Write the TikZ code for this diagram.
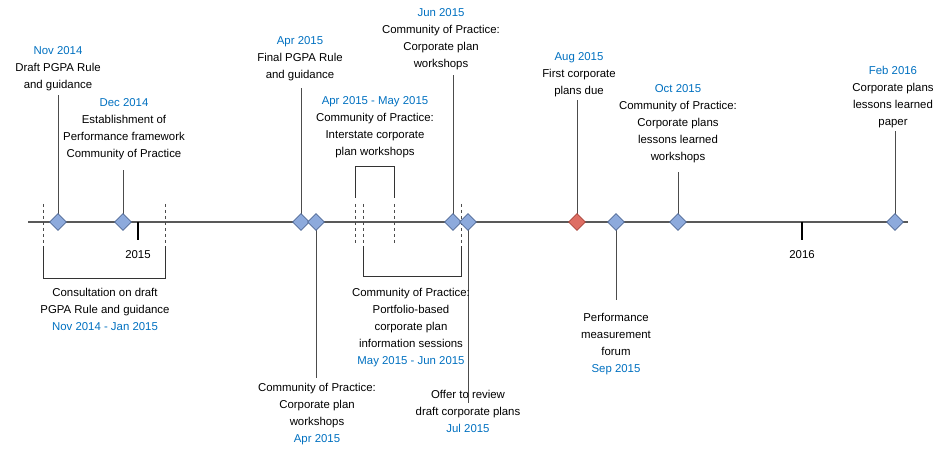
\documentclass[tikz,border=0pt]{standalone}
\usepackage{fontspec}
\setmainfont{Liberation Sans}
\usetikzlibrary{shapes.geometric}
\definecolor{lblue}{RGB}{0,112,192}
\definecolor{dfill}{RGB}{141,170,220}
\definecolor{dline}{RGB}{80,105,150}
\definecolor{rfill}{RGB}{222,110,100}
\definecolor{rline}{RGB}{170,70,60}
\begin{document}
\begin{tikzpicture}[x=1pt,y=-1pt,
  ms/.style={diamond,draw=dline,fill=dfill,minimum size=17pt,inner sep=0pt,line width=0.8pt},
  msr/.style={ms,draw=rline,fill=rfill},
  lbl/.style={align=center,inner sep=0pt,font=\fontsize{11.4}{17}\selectfont,anchor=north},
  stem/.style={draw=black!70,line width=0.8pt},
  dsh/.style={draw=black!70,dashed,line width=0.6pt},
  brk/.style={draw=black!80,line width=0.8pt}]
\useasboundingbox (0,0) rectangle (950,454);
\coordinate (L0) at (28,222); \coordinate (L1) at (908,222);
\draw[draw=black!65,line width=1.6pt] (L0) -- (L1);
\coordinate (t1) at (138,222); \coordinate (t1b) at (138,240);
\coordinate (t2) at (802,222); \coordinate (t2b) at (802,240);
\draw[line width=1.6pt] (t1)--(t1b); \draw[line width=1.6pt] (t2)--(t2b);
\node[lbl] (y1) at (138,250) {2015};
\node[lbl] (y2) at (802,250) {2016};
\foreach \x/\n in {43/a,165/b,355/c,363/d,394/e,461/f}{
 \coordinate (d\n1) at (\x,204); \coordinate (d\n2) at (\x,244);
 \draw[dsh] (d\n1)--(d\n2);}
\coordinate (ba1) at (43,246); \coordinate (ba2) at (43,278); \coordinate (ba3) at (165,278); \coordinate (ba4) at (165,246);
\draw[brk] (ba1)--(ba2)--(ba3)--(ba4);
\coordinate (bb1) at (355,198); \coordinate (bb2) at (355,166); \coordinate (bb3) at (394,166); \coordinate (bb4) at (394,198);
\draw[brk] (bb1)--(bb2)--(bb3)--(bb4);
\coordinate (bc1) at (363,246); \coordinate (bc2) at (363,276); \coordinate (bc3) at (461,276); \coordinate (bc4) at (461,246);
\draw[brk] (bc1)--(bc2)--(bc3)--(bc4);
\foreach \x/\y/\n in {58/95/a,123/170/b,301/88/c,316/378/d,453/75/e,468/403/f,577/100/g,616/300/h,678/172/i,895/131/j}{
 \coordinate (s\n) at (\x,222); \coordinate (e\n) at (\x,\y);
 \draw[stem] (s\n)--(e\n);}
\foreach \x/\n in {58/a,123/b,301/c,316/d,453/e,468/f,616/h,678/i,895/j}{
 \node[ms] (m\n) at (\x,222) {};}
\node[msr] (mg) at (577,222) {};
\node[lbl] (n1) at (58,46) {\textcolor{lblue}{Nov 2014}\\Draft PGPA Rule\\and guidance};
\node[lbl] (n2) at (124,98) {\textcolor{lblue}{Dec 2014}\\Establishment of\\Performance framework\\Community of Practice};
\node[lbl] (n3) at (300,36) {\textcolor{lblue}{Apr 2015}\\Final PGPA Rule\\and guidance};
\node[lbl] (n4) at (375,96) {\textcolor{lblue}{Apr 2015 - May 2015}\\Community of Practice:\\Interstate corporate\\plan workshops};
\node[lbl] (n5) at (441,8) {\textcolor{lblue}{Jun 2015}\\Community of Practice:\\Corporate plan\\workshops};
\node[lbl] (n6) at (579,52) {\textcolor{lblue}{Aug 2015}\\First corporate\\plans due};
\node[lbl] (n7) at (678,84) {\textcolor{lblue}{Oct 2015}\\Community of Practice:\\Corporate plans\\lessons learned\\workshops};
\node[lbl] (n8) at (893,66) {\textcolor{lblue}{Feb 2016}\\Corporate plans\\lessons learned\\paper};
\node[lbl] (n9) at (105,288) {Consultation on draft\\PGPA Rule and guidance\\\textcolor{lblue}{Nov 2014 - Jan 2015}};
\node[lbl] (n10) at (411,288) {Community of Practice:\\Portfolio-based\\corporate plan\\information sessions\\\textcolor{lblue}{May 2015 - Jun 2015}};
\node[lbl] (n11) at (616,313) {Performance\\measurement\\forum\\\textcolor{lblue}{Sep 2015}};
\node[lbl] (n12) at (317,383) {Community of Practice:\\Corporate plan\\workshops\\\textcolor{lblue}{Apr 2015}};
\node[lbl] (n13) at (468,390) {Offer to review\\draft corporate plans\\\textcolor{lblue}{Jul 2015}};
\end{tikzpicture}
\end{document}
